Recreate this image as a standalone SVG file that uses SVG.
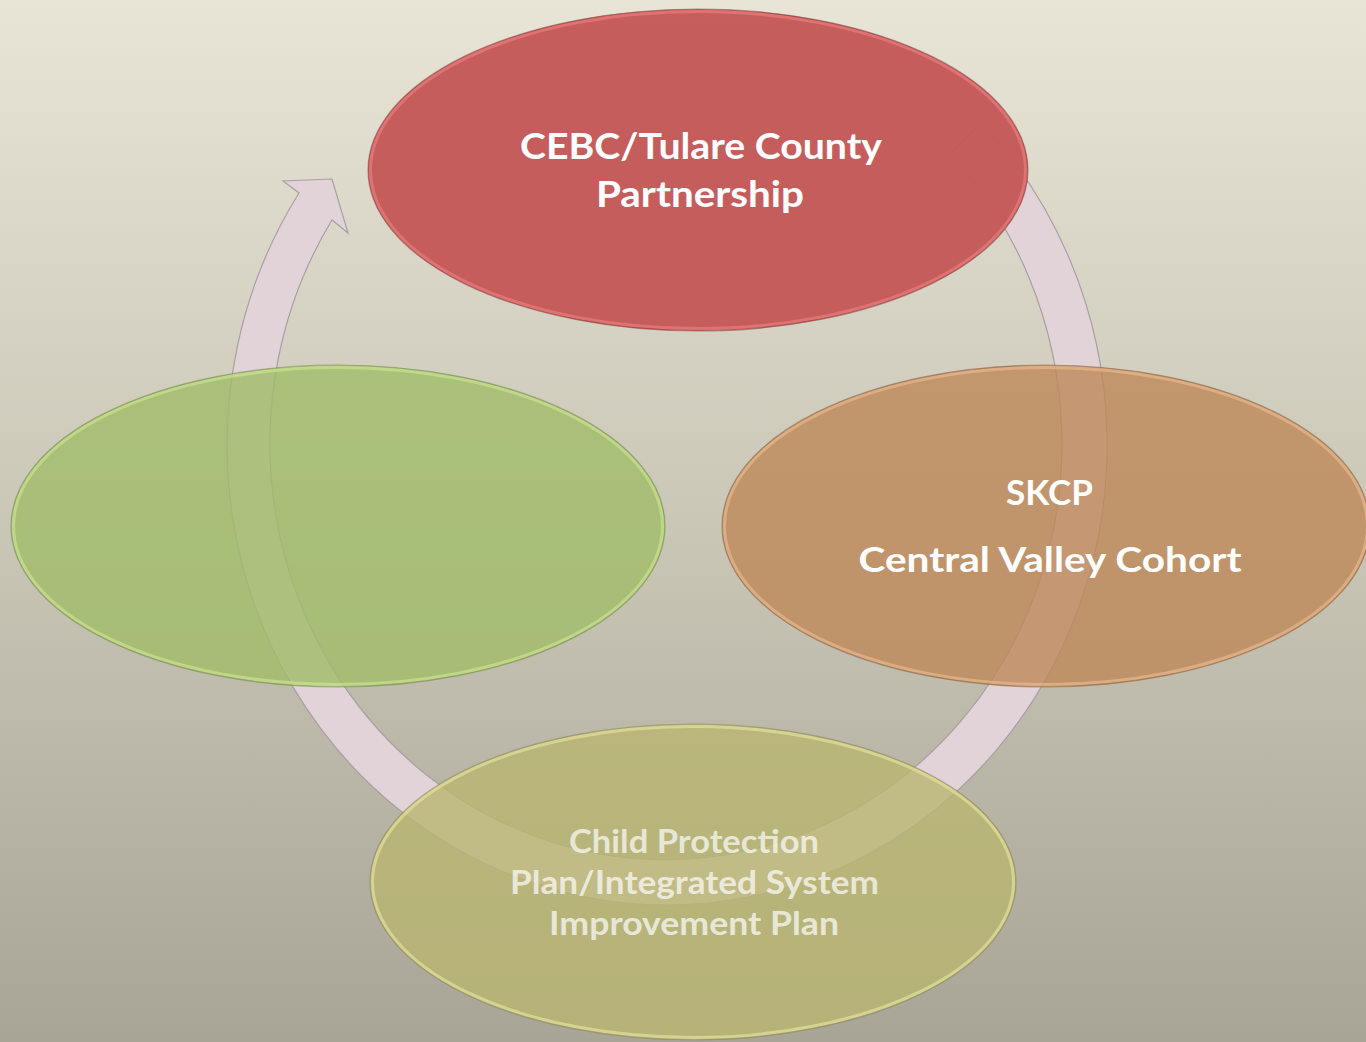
<svg xmlns="http://www.w3.org/2000/svg" width="1366" height="1042" viewBox="0 0 1366 1042">
<defs>
  <linearGradient id="bg" x1="0" y1="0" x2="0" y2="1">
    <stop offset="0" stop-color="#e8e5d7"/>
    <stop offset="0.5" stop-color="#cac7b7"/>
    <stop offset="1" stop-color="#a8a597"/>
  </linearGradient>
</defs>
<style>
  .lbl { font-family: Lato, "Open Sans", "Liberation Sans", sans-serif; font-weight: 700; fill: #ffffff; text-anchor: middle; }
  .faint { fill-opacity: 0.7; }
  .body { fill-opacity: 0.8; }
  .rim { fill: none; stroke-width: 3; stroke-opacity: 0.7; }
  .edge { fill: none; stroke-width: 1.2; stroke-opacity: 0.5; }
  .arrow { fill: #e1d3d7; stroke: #a99fa2; stroke-width: 1.2; }
</style>
<rect x="0" y="0" width="1366" height="1042" fill="url(#bg)"/>

<g id="connectors">
  <path class="arrow" d="M 981.1 122.7 A 440 460 0 1 1 299 193 L 283 181 L 332 179 L 348 233 L 332 220 A 396 416 0 1 0 950 153.8 Z"/>
</g>

<g id="node-green">
  <ellipse class="body" cx="338" cy="526" rx="327" ry="161" fill="#a0bd68"/>
  <ellipse class="rim" cx="338" cy="526" rx="324.5" ry="158.5" stroke="#c9e28f"/>
  <ellipse class="edge" cx="338" cy="526" rx="327" ry="161" stroke="#6f7f4e"/>
</g>

<g id="node-orange">
  <ellipse class="body" cx="1046" cy="526" rx="324" ry="161" fill="#be8859"/>
  <ellipse class="rim" cx="1046" cy="526" rx="321.5" ry="158.5" stroke="#eab68c"/>
  <ellipse class="edge" cx="1046" cy="526" rx="324" ry="161" stroke="#7e5e42"/>
  <text class="lbl" x="1049.5" y="505" font-size="35" textLength="87" lengthAdjust="spacingAndGlyphs">SKCP</text>
  <text class="lbl" x="1050" y="572" font-size="35" textLength="383" lengthAdjust="spacingAndGlyphs">Central Valley Cohort</text>
</g>

<g id="node-yellow">
  <ellipse class="body" cx="693" cy="882" rx="323" ry="158" fill="#b9b570"/>
  <ellipse class="rim" cx="693" cy="882" rx="320.5" ry="155.5" stroke="#e4df9a"/>
  <ellipse class="edge" cx="693" cy="882" rx="323" ry="158" stroke="#84815c"/>
  <text class="lbl faint" x="694" y="853" font-size="33" textLength="250" lengthAdjust="spacingAndGlyphs">Child Protection</text>
  <text class="lbl faint" x="694.5" y="894" font-size="33" textLength="369" lengthAdjust="spacingAndGlyphs">Plan/Integrated System</text>
  <text class="lbl faint" x="694" y="935" font-size="33" textLength="290" lengthAdjust="spacingAndGlyphs">Improvement Plan</text>
</g>

<g id="node-red">
  <ellipse cx="698" cy="170" rx="330" ry="161" fill="#c45959" fill-opacity="0.97"/>
  <ellipse class="rim" cx="698" cy="170" rx="327.5" ry="158.5" stroke="#ea7c7c"/>
  <ellipse class="edge" cx="698" cy="170" rx="330" ry="161" stroke="#7e3e3e"/>
  <text class="lbl" x="701" y="159" font-size="37" textLength="362" lengthAdjust="spacingAndGlyphs">CEBC/Tulare County</text>
  <text class="lbl" x="700" y="207" font-size="37" textLength="208" lengthAdjust="spacingAndGlyphs">Partnership</text>
</g>
</svg>
